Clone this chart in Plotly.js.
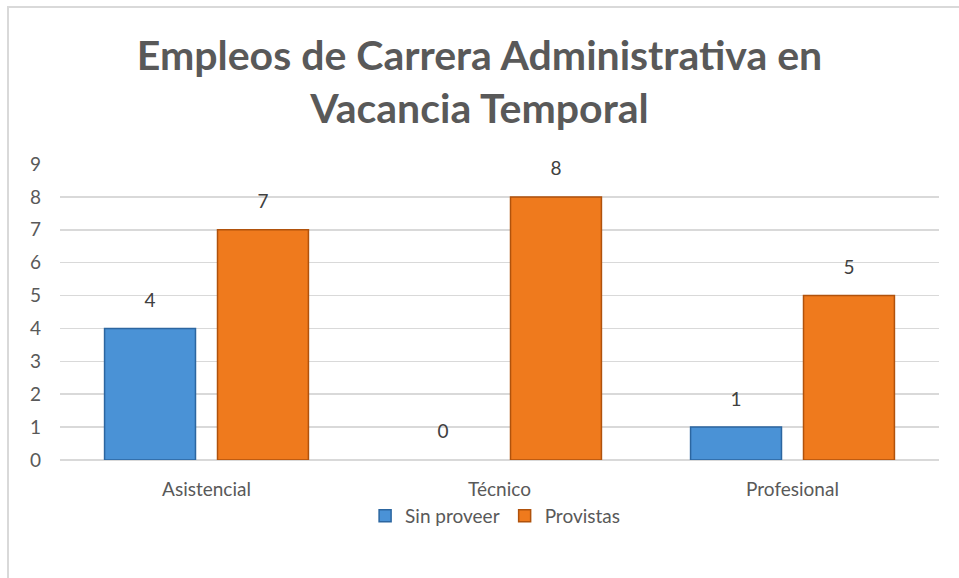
<!DOCTYPE html>
<html>
<head>
<meta charset="utf-8">
<script src="https://cdn.plot.ly/plotly-3.0.1.min.js"></script>
<style>
html,body{margin:0;padding:0;background:#fff;}
#frame{position:absolute;left:7px;top:6px;width:980px;height:600px;border-left:2px solid #d9d9d9;border-top:2px solid #d9d9d9;box-sizing:border-box;pointer-events:none;z-index:5;}
#chart{position:absolute;left:0;top:0;width:959px;height:578px;}
</style>
</head>
<body>
<div id="chart"></div>
<div id="frame"></div>
<script>
const categories = ["Asistencial", "Técnico", "Profesional"];
const sinProveer = [4, 0, 1];
const provistas = [7, 8, 5];
const seriesNames = ["Sin proveer", "Provistas"];
const yTicks = [0,1,2,3,4,5,6,7,8,9];

const txtColor = "#595959";
const font = "Lato, 'Open Sans', sans-serif";
const labelTpl = "<span style='font-size:19px'>%{text}</span><br> ";

const traces = [
  {
    type: "bar", name: seriesNames[0], x: categories, y: sinProveer,
    text: sinProveer.map(String), texttemplate: labelTpl, textposition: "outside",
    textfont: {family: font, size: 12, color: "#404040"},
    marker: {color: "#4a92d6", line: {color: "#2c66a0", width: sinProveer.map(v => v > 0 ? 1.5 : 0)}},
    cliponaxis: false
  },
  {
    type: "bar", name: seriesNames[1], x: categories, y: provistas,
    text: provistas.map(String), texttemplate: labelTpl, textposition: "outside",
    textfont: {family: font, size: 12, color: "#404040"},
    marker: {color: "#ef7a1d", line: {color: "#b0520c", width: provistas.map(v => v > 0 ? 1.5 : 0)}},
    cliponaxis: false
  }
];

const layout = {
  width: 959, height: 578,
  paper_bgcolor: "#fff", plot_bgcolor: "#fff",
  margin: {l: 60, r: 20, t: 164, b: 118},
  title: {
    text: "Empleos de Carrera Administrativa en<br>Vacancia Temporal",
    font: {family: font, size: 41, color: txtColor, weight: "bold"},
    x: 0.5, xanchor: "center", xref: "container",
    y: 1 - 70/578, yanchor: "middle", yref: "container"
  },
  barmode: "group", bargap: 0.229, bargroupgap: 0.195,
  xaxis: {
    showgrid: false, zeroline: false, showline: false,
    tickfont: {family: font, size: 19, color: txtColor},
    ticks: "", ticklabelstandoff: 16
  },
  yaxis: {
    range: [0, 9], tickvals: yTicks, ticktext: yTicks.map(String),
    showgrid: true, gridcolor: "#d9d9d9", gridwidth: 1.5,
    zeroline: true, zerolinecolor: "#d9d9d9", zerolinewidth: 1.5,
    showline: false, ticks: "",
    tickfont: {family: font, size: 19, color: txtColor},
    ticklabelstandoff: 18
  },
  showlegend: true,
  legend: {
    orientation: "h", x: 0.495, xanchor: "center", y: -0.189, yanchor: "middle",
    font: {family: font, size: 19, color: txtColor},
    itemwidth: 30, traceorder: "normal"
  },
  font: {family: font, color: txtColor}
};

Plotly.newPlot("chart", traces, layout, {displayModeBar: false, staticPlot: true});
</script>
</body>
</html>
